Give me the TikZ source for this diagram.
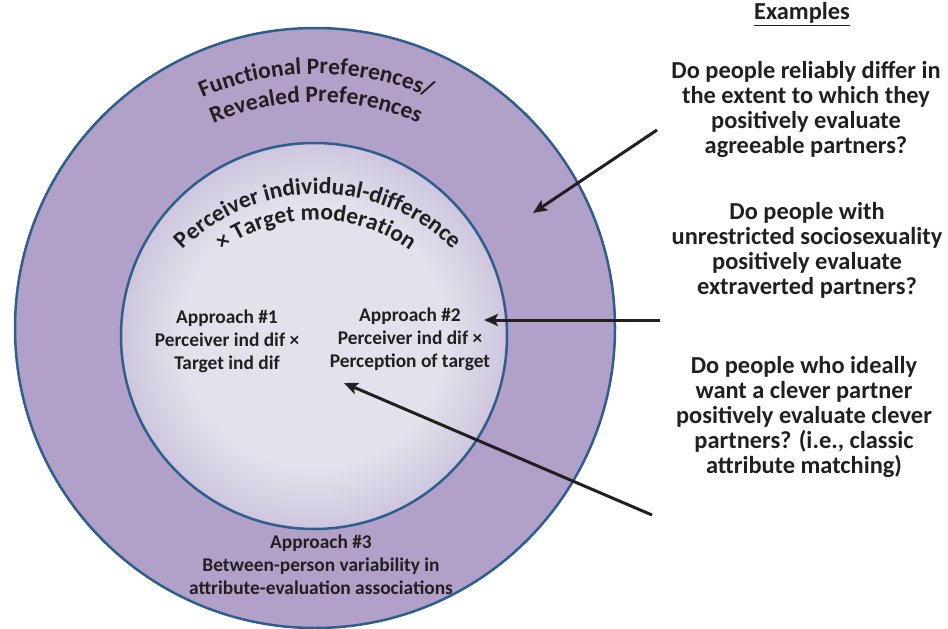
\documentclass[tikz,border=0pt]{standalone}
\usepackage{fontspec}
\setmainfont{Carlito}
\usetikzlibrary{arrows.meta,decorations.text}

\definecolor{ringfill}{RGB}{177,160,199}
\definecolor{corefill}{RGB}{200,190,218}
\definecolor{glowfill}{RGB}{227,226,236}
\definecolor{rimblue}{RGB}{46,94,142}
\definecolor{inkdark}{RGB}{35,31,32}

\pgfdeclareradialshading{coreglow}{\pgfpoint{0bp}{0bp}}{%
  color(0bp)=(glowfill); color(17bp)=(glowfill);
  color(27bp)=(corefill); color(50bp)=(corefill)}

\newcommand\TitleFont{\bfseries\fontsize{23.5}{23.5}\selectfont}

\tikzset{
  ring/.style={draw=rimblue, line width=2.5pt},
  approach/.style={text=inkdark, align=center, font=\bfseries\fontsize{19.4}{23}\selectfont},
  question/.style={text=inkdark, align=center, font=\bfseries\fontsize{24.4}{25}\selectfont},
  pointer/.style={draw=inkdark, line width=3pt, -{Stealth[length=14pt,width=12pt,inset=3pt]}},
}

\begin{document}
\begin{tikzpicture}[x=1pt,y=-1pt]
        \useasboundingbox (0,0) rectangle (948,629);
        % the two rings
        \coordinate (outerc) at (315,328);
        \coordinate (innerc) at (314,336);
        \fill[ringfill] (outerc) circle (300pt);
        \draw[ring] (outerc) circle (300pt);
        \shade[shading=coreglow] (innerc) circle (193pt);
        \draw[ring] (innerc) circle (193pt);
        % arched titles
        \coordinate (titlec) at (316,358);
        \coordinate (coreca) at (318,385);
        \coordinate (corecb) at (316,381);
        \path[decorate, decoration={text along path, text align=center, text color=inkdark,
            text={|\TitleFont|Functional Preferences/}}]
            (titlec) ++(150:284pt) arc[start angle=150, end angle=30, radius=284pt];
        \path[decorate, decoration={text along path, text align=center, text color=inkdark,
            text={|\TitleFont|Revealed Preferences}}]
            (titlec) ++(150:256pt) arc[start angle=150, end angle=30, radius=256pt];
        \path[decorate, decoration={text along path, text align=center, text color=inkdark,
            text={|\TitleFont|Perceiver individual-difference}}]
            (coreca) ++(170:191pt) arc[start angle=170, end angle=10, radius=191pt];
        \path[decorate, decoration={text along path, text align=center, text color=inkdark,
            text={|\TitleFont|× Target moderation}}]
            (corecb) ++(170:161pt) arc[start angle=170, end angle=10, radius=161pt];
        % approaches
        \node[approach] (appr1) at (227,341) {Approach \#1\\Perceiver ind dif ×\\Target ind dif};
        \node[approach] (appr2) at (410,339) {Approach \#2\\Perceiver ind dif ×\\Perception of target};
        \node[approach] (appr3) at (321,564.5) {Approach \#3\\Between-person variability in\\attribute-evaluation associations};
        % examples
        \node[question] (exhead) at (802,14) {\underline{Examples}};
        \node[question] (q1) at (806,109.5) {Do people reliably differ in\\the extent to which they\\positively evaluate\\agreeable partners?};
        \node[question] (q2) at (807,250) {Do people with\\unrestricted sociosexuality\\positively evaluate\\extraverted partners?};
        \node[question] (q3) at (804,417) {Do people who ideally\\want a clever partner\\positively evaluate clever\\partners? (i.e., classic\\attribute matching)};
        % pointers
        \coordinate (q1tail) at (657,130);
        \coordinate (q1head) at (533,213);
        \coordinate (q2tail) at (660,320);
        \coordinate (q2head) at (484,320);
        \coordinate (q3tail) at (652,515);
        \coordinate (q3head) at (344,383);
        \draw[pointer] (q1tail) -- (q1head);
        \draw[pointer] (q2tail) -- (q2head);
        \draw[pointer] (q3tail) -- (q3head);
    \end{tikzpicture}
\end{document}
